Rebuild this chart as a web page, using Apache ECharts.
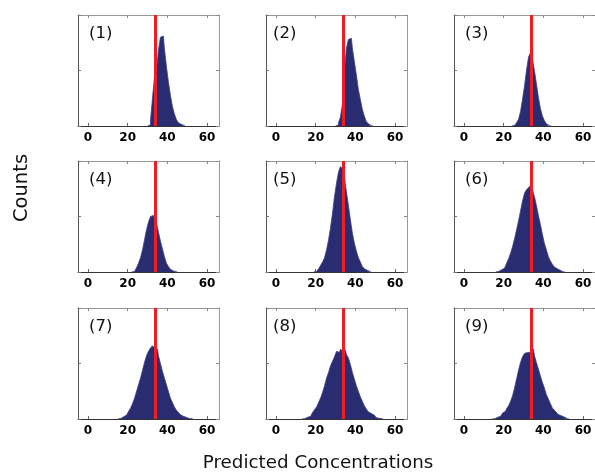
<!DOCTYPE html>
<html><head><meta charset="utf-8">
<script src="https://cdn.jsdelivr.net/npm/echarts@6/dist/echarts.min.js"></script>
<style>html,body{margin:0;padding:0;background:#fff}#c{width:595px;height:474px}</style>
</head><body><div id="c"></div>
<script>
// ---- data ----
const xTicks = [0, 20, 40, 60];
const trueConcentration = 34;
const panelLabels = ['(1)', '(2)', '(3)', '(4)', '(5)', '(6)', '(7)', '(8)', '(9)'];
// first bin centre (concentration) of each panel's histogram, bin width 1
const binStart = [31, 31, 25, 23, 20, 17, 16, 14, 15];
const counts1 = [10, 50, 250, 440, 500, 680, 800, 810, 700, 540, 400, 280, 180, 110, 60, 30, 15, 5];
const counts2 = [10, 30, 80, 200, 500, 700, 780, 790, 700, 580, 460, 330, 240, 150, 90, 40, 20, 5];
const counts3 = [5, 10, 30, 60, 130, 240, 360, 500, 620, 660, 600, 500, 380, 260, 160, 90, 50, 20, 5];
const counts4 = [5, 20, 40, 80, 130, 200, 290, 380, 450, 500, 510, 480, 440, 360, 280, 210, 140, 80, 50, 25, 10, 5];
const counts5 = [5, 10, 30, 60, 90, 130, 200, 290, 400, 530, 680, 800, 900, 950, 930, 850, 720, 600, 470, 350, 260, 190, 130, 90, 50, 30, 15, 5];
const counts6 = [5, 10, 20, 35, 50, 80, 120, 170, 230, 300, 380, 460, 550, 640, 710, 740, 760, 780, 740, 680, 600, 510, 430, 340, 260, 200, 140, 100, 70, 45, 30, 15, 8, 3];
const counts7 = [5, 10, 20, 35, 50, 70, 100, 140, 190, 250, 310, 370, 440, 510, 570, 610, 640, 660, 640, 630, 570, 500, 430, 370, 310, 250, 190, 150, 110, 80, 60, 40, 25, 15, 10, 5, 3];
const counts8 = [3, 8, 15, 25, 40, 60, 85, 110, 150, 190, 240, 300, 370, 420, 480, 520, 560, 610, 600, 630, 610, 620, 580, 550, 490, 420, 360, 300, 250, 200, 160, 120, 90, 65, 50, 35, 20, 12, 6, 3];
const counts9 = [3, 8, 15, 25, 40, 55, 70, 95, 120, 160, 210, 280, 360, 440, 510, 560, 590, 600, 600, 620, 630, 570, 510, 450, 390, 330, 280, 220, 180, 140, 100, 80, 60, 40, 30, 18, 10, 5];
const allCounts = [counts1, counts2, counts3, counts4, counts5, counts6, counts7, counts8, counts9];
const yMax = 1000;

// ---- layout ----
const gridLeft = [78, 266, 454];
const gridTop = [15, 161, 308];
const labelX = [89, 273, 465];
const NAVY = '#2a2c72';
const RED = '#ee1c25';

const grids = [], xAxes = [], yAxes = [], series = [], graphics = [];
for (let i = 0; i < 9; i++) {
  const r = Math.floor(i / 3), c = i % 3;
  grids.push({ left: gridLeft[c], top: gridTop[r], width: 141, height: 111 });
  xAxes.push({
    gridIndex: i, type: 'value', min: -5, max: 66, position: 'bottom',
    axisLine: { show: true, onZero: false, lineStyle: { color: '#333', width: 1 } },
    axisTick: { show: true, inside: true, length: 3, customValues: xTicks, lineStyle: { color: '#666' } },
    axisLabel: { show: true, customValues: xTicks, fontFamily: 'DejaVu Sans', fontWeight: 'bold', fontSize: 12, color: '#000', margin: 6 },
    splitLine: { show: false }
  });
  xAxes.push({
    gridIndex: i, type: 'value', min: -5, max: 66, position: 'top',
    axisLine: { show: true, onZero: false, lineStyle: { color: '#999', width: 1 } },
    axisTick: { show: true, inside: true, length: 3, customValues: xTicks, lineStyle: { color: '#888' } },
    axisLabel: { show: false },
    splitLine: { show: false }
  });
  yAxes.push({
    gridIndex: i, type: 'value', min: 0, max: yMax, interval: yMax / 2, position: 'left',
    axisLine: { show: true, onZero: false, lineStyle: { color: '#555', width: 1 } },
    axisTick: { show: true, inside: true, length: 3, lineStyle: { color: '#777' } },
    axisLabel: { show: false }, splitLine: { show: false }
  });
  yAxes.push({
    gridIndex: i, type: 'value', min: 0, max: yMax, interval: yMax / 2, position: 'right',
    axisLine: { show: true, onZero: false, lineStyle: { color: '#999', width: 1 } },
    axisTick: { show: true, inside: true, length: 3, lineStyle: { color: '#888' } },
    axisLabel: { show: false }, splitLine: { show: false }
  });
  const cnt = allCounts[i];
  const data = [[binStart[i] - 1, 0]];
  cnt.forEach((v, k) => data.push([binStart[i] + k, v]));
  data.push([binStart[i] + cnt.length, 0]);
  series.push({
    type: 'line', xAxisIndex: 2 * i, yAxisIndex: 2 * i, data: data,
    step: 'middle', showSymbol: false, symbol: 'none',
    lineStyle: { width: 0.8, color: '#3a3d85' },
    areaStyle: { color: NAVY, opacity: 1 },
    markLine: {
      silent: true, symbol: ['none', 'none'], label: { show: false },
      lineStyle: { color: RED, width: 3, type: 'solid' },
      data: [{ xAxis: trueConcentration }]
    }
  });
  graphics.push({
    type: 'text', left: labelX[c], top: gridTop[r] + 10,
    style: { text: panelLabels[i], font: '16.5px "DejaVu Sans"', fill: '#111' }
  });
}
graphics.push({
  type: 'text', x: 22, y: 188, rotation: Math.PI / 2,
  style: { text: 'Counts', font: '19.5px "DejaVu Sans"', fill: '#111', align: 'center', verticalAlign: 'middle' }
});
graphics.push({
  type: 'text', x: 318, y: 463,
  style: { text: 'Predicted Concentrations', font: '18.3px "DejaVu Sans"', fill: '#111', align: 'center', verticalAlign: 'middle' }
});

const chart = echarts.init(document.getElementById('c'), null, { renderer: 'canvas' });
chart.setOption({
  animation: false,
  backgroundColor: '#fff',
  grid: grids, xAxis: xAxes, yAxis: yAxes, series: series, graphic: graphics
});
</script></body></html>
